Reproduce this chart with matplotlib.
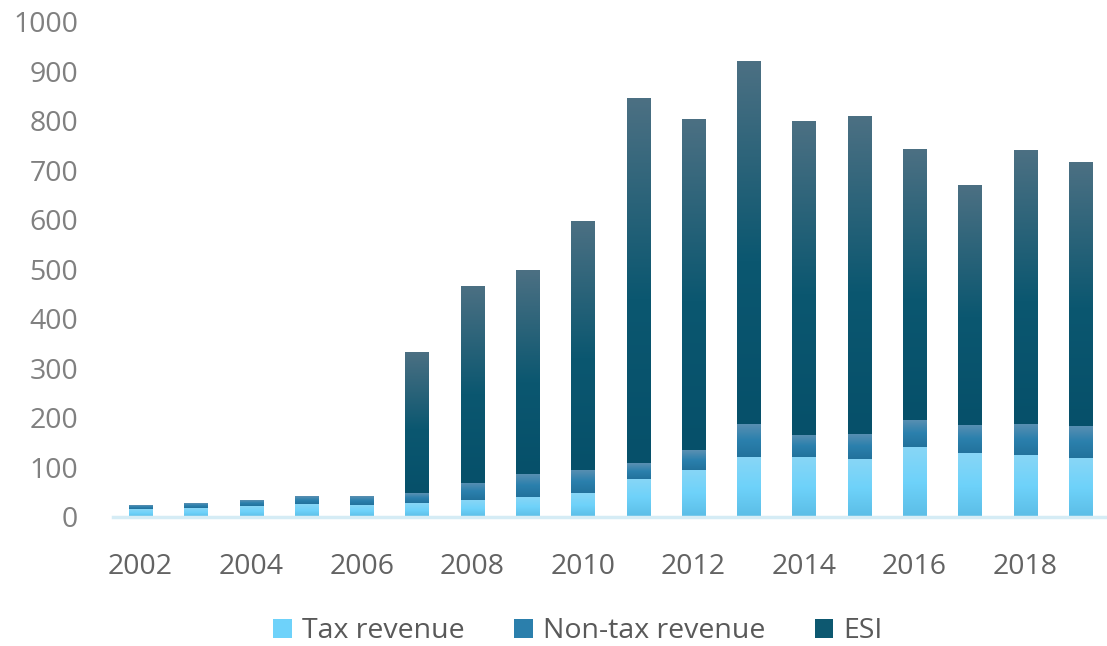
import numpy as np
import matplotlib
matplotlib.use('Agg')
import matplotlib.pyplot as plt
from matplotlib.colors import LinearSegmentedColormap
from matplotlib.patches import Patch

years = [str(y) for y in range(2002, 2020)]
tax = [16, 18, 22, 26, 24, 28, 34, 40, 48, 77, 95, 121, 121, 117, 141, 129, 125, 119]
non_tax = [8, 10, 12, 16, 18, 20, 35, 47, 47, 32, 40, 67, 45, 51, 55, 57, 63, 65]
esi = [0, 0, 0, 0, 0, 285, 398, 412, 503, 737, 669, 733, 634, 642, 547, 485, 553, 533]
series_names = ['Tax revenue', 'Non-tax revenue', 'ESI']

# gradient stops, bottom -> top
grads = {
    'Tax revenue': [(0.0, '#5bbde6'), (0.5, '#6ed2fa'), (1.0, '#88d6f6')],
    'Non-tax revenue': [(0.0, '#22729c'), (0.5, '#2b80ad'), (1.0, '#5b90b2')],
    'ESI': [(0.0, '#06506a'), (0.45, '#0b5770'), (1.0, '#4c7083')],
}
legend_cols = {'Tax revenue': '#6ed2fa', 'Non-tax revenue': '#2b7fac', 'ESI': '#0d5870'}

plt.rcParams['font.family'] = ['Open Sans', 'DejaVu Sans']

fig = plt.figure(figsize=(11.07, 6.46), dpi=100)
ax = fig.add_axes([0.102, 0.1997, 0.899, 0.7663])

x = np.arange(len(years))
grad_img = np.linspace(0, 1, 256).reshape(-1, 1)
bottom = np.zeros(len(years))
for name, vals in zip(series_names, [tax, non_tax, esi]):
    cmap = LinearSegmentedColormap.from_list(name, grads[name])
    bars = ax.bar(x, vals, width=0.42, bottom=bottom, facecolor='none', edgecolor='none')
    for r in bars:
        if r.get_height() <= 0:
            continue
        x0, y0 = r.get_x(), r.get_y()
        im = ax.imshow(grad_img, cmap=cmap, origin='lower', aspect='auto',
                       extent=(x0, x0 + r.get_width(), y0, y0 + r.get_height()),
                       interpolation='bilinear', zorder=2)
        im.set_clip_path(r)
    bottom = bottom + np.array(vals)

ax.set_xlim(-0.5, len(years) - 0.5)
ax.set_ylim(0, 1000)
ax.set_yticks(range(0, 1001, 100))
ax.set_xticks(x[::2])
ax.set_xticklabels(years[::2])
ax.tick_params(axis='y', length=0, pad=25, labelsize=20.5, labelcolor='#808080')
ax.tick_params(axis='x', length=0, pad=26, labelsize=20.5, labelcolor='#636363')
for s in ['top', 'right', 'left']:
    ax.spines[s].set_visible(False)
ax.spines['bottom'].set_color('#d5ecf5')
ax.spines['bottom'].set_linewidth(2.5)

handles = [Patch(facecolor=legend_cols[n], edgecolor='none') for n in series_names]
fig.legend(handles, series_names, loc='center', bbox_to_anchor=(0.522, 0.023),
           ncol=3, frameon=False, fontsize=20.5, labelcolor='#595959',
           handlelength=0.65, handleheight=0.65, handletextpad=0.35, columnspacing=1.75)

fig.savefig('out.png', dpi=100)
